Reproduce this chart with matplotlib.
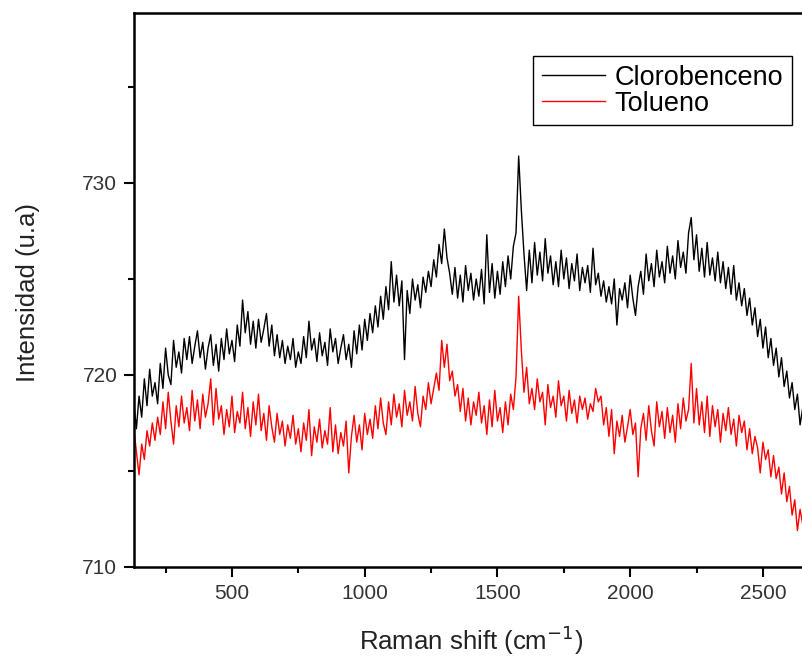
"""Raman spectra of clorobenceno and tolueno (reproduction of the reference figure)."""

import matplotlib

matplotlib.use("Agg")
import matplotlib.pyplot as plt
import numpy as np
from matplotlib.ticker import MultipleLocator

plt.rcParams["font.family"] = ["Liberation Sans", "DejaVu Sans"]

# Raman shift grid, cm^-1 (read every 10 cm^-1 from 130 to 2650)
shift = np.arange(130, 2660, 10)

# intensities, one row per 100 cm^-1
clorobenceno = [
    718.6, 717.2, 718.9, 717.8, 719.8, 718.4, 720.3, 718.9, 719.6, 718.5,
    720.6, 719.3, 721.4, 720.0, 719.5, 721.8, 720.4, 721.2, 720.1, 721.9,
    720.8, 722.0, 720.6, 721.5, 722.3, 720.9, 721.7, 720.3, 721.4, 722.1,
    720.5, 721.6, 720.2, 721.9, 720.8, 722.4, 721.1, 721.8, 720.7, 722.6,
    721.5, 723.9, 722.2, 723.3, 721.6, 722.8, 721.4, 722.9, 721.7, 722.4,
    723.2, 721.5, 722.6, 721.0, 722.1, 720.9, 721.8, 720.6, 721.5, 720.8,
    721.9, 720.4, 721.2, 720.6, 722.0, 720.9, 722.8, 721.3, 721.9, 720.7,
    722.2, 721.0, 721.7, 720.5, 722.4, 721.2, 721.9, 720.6, 721.4, 722.1,
    720.8, 721.6, 720.4, 722.3, 721.1, 722.6, 721.3, 722.9, 721.8, 723.2,
    722.2, 723.6, 722.5, 724.1, 722.9, 724.6, 723.4, 725.9, 723.8, 725.2,
    723.6, 724.9, 720.8, 724.4, 723.2, 725.0, 723.9, 724.7, 723.5, 725.1,
    724.3, 725.4, 724.6, 726.0, 725.1, 726.8, 725.8, 727.6, 726.1, 725.3,
    724.2, 725.6, 724.0, 725.2, 723.8, 725.7, 724.4, 725.3, 723.9, 725.0,
    724.1, 725.5, 723.7, 727.3, 724.3, 725.8, 724.0, 725.4, 724.2, 725.9,
    724.6, 726.2, 725.0, 726.7, 727.4, 731.4, 728.6, 726.3, 724.4, 726.5,
    724.8, 726.9, 725.2, 726.4, 724.9, 727.1, 725.3, 726.2, 724.7, 725.9,
    724.6, 726.5, 725.0, 726.1, 724.5, 725.8, 724.9, 726.3, 724.4, 725.6,
    724.8, 725.7, 724.3, 726.6, 724.7, 725.3, 724.1, 724.9, 723.8, 724.6,
    723.7, 725.0, 722.6, 724.5, 723.9, 724.8, 723.5, 725.2, 724.0, 723.1,
    724.6, 725.4, 724.2, 726.3, 724.9, 725.8, 724.6, 726.5, 725.1, 725.9,
    724.8, 726.7, 725.3, 726.2, 725.0, 727.0, 725.6, 726.4, 725.3, 727.4,
    728.2, 726.0, 727.3, 725.4, 726.6, 725.1, 726.9, 725.2, 726.1, 724.9,
    726.4, 724.8, 725.9, 724.5, 725.6, 724.2, 725.7, 723.9, 724.8, 723.6,
    724.5, 723.1, 724.0, 722.6, 723.5, 722.0, 722.9, 721.4, 722.5, 720.9,
    721.9, 720.5, 721.4, 719.9, 720.9, 719.4, 720.2, 718.8, 719.6, 718.2,
    719.0, 717.4, 718.3,
]

tolueno = [
    717.3, 716.0, 714.8, 716.4, 715.6, 717.1, 716.3, 717.5, 716.6, 717.8,
    716.9, 718.6, 717.2, 719.1, 717.6, 716.4, 718.4, 717.3, 718.9, 717.5,
    718.3, 717.1, 719.2, 717.6, 718.7, 717.2, 719.0, 717.8, 718.5, 719.8,
    717.4, 719.3, 717.7, 718.4, 716.9, 718.2, 717.3, 718.9, 717.0, 718.1,
    717.5, 719.1, 717.2, 718.3, 716.8, 718.6, 717.4, 719.0, 717.1, 718.0,
    716.6, 718.4, 717.3, 716.5, 718.0, 716.9, 717.6, 716.3, 717.4, 716.7,
    717.9, 716.4, 717.2, 716.0, 717.5, 716.6, 718.2, 715.8, 717.3, 716.5,
    717.7, 716.2, 717.1, 716.4, 718.3, 716.0, 717.4, 715.9, 717.0, 716.3,
    717.6, 714.9, 716.8, 717.9, 716.5, 717.4, 716.1, 718.0, 716.9, 717.7,
    716.7, 718.4, 717.2, 718.8, 717.5, 716.9, 718.6, 717.4, 719.0, 717.8,
    718.5, 717.3, 719.2, 717.9, 718.6, 717.6, 719.4, 718.0, 717.3, 718.9,
    718.2, 719.6, 718.5, 719.3, 720.1, 719.2, 721.8, 720.4, 721.6, 719.7,
    720.2, 718.9, 719.5, 718.1, 719.3, 717.6, 718.8, 717.4, 718.6, 717.9,
    719.1, 717.5, 718.4, 716.9, 718.7, 717.3, 719.2, 717.6, 718.3, 717.0,
    718.6, 717.4, 719.0, 718.2, 719.9, 724.1, 721.3, 719.1, 720.4, 718.5,
    719.3, 718.2, 719.8, 718.6, 719.1, 717.4, 719.5, 718.3, 718.9, 717.8,
    719.7, 718.4, 718.9, 717.6, 719.2, 718.0, 718.7, 717.5, 718.9, 718.2,
    718.8, 717.7, 718.5, 718.1, 719.3, 718.6, 718.9, 717.4, 718.3, 716.8,
    718.2, 715.9, 717.6, 716.8, 717.9, 716.5, 717.3, 718.2, 716.9, 717.5,
    714.7, 717.2, 718.0, 716.6, 718.4, 717.1, 716.3, 718.6, 717.3, 718.1,
    716.7, 718.3, 717.0, 717.9, 716.5, 718.5, 717.2, 718.8, 717.6, 718.2,
    720.6, 717.5, 719.3, 717.4, 718.6, 717.0, 718.9, 716.8, 718.4, 717.3,
    718.2, 716.5, 718.0, 717.1, 718.3, 716.9, 717.7, 716.3, 717.9, 717.0,
    717.6, 716.1, 717.2, 715.9, 716.8, 716.2, 714.9, 716.5, 715.6, 716.1,
    714.7, 715.8, 714.6, 715.2, 713.8, 714.9, 713.4, 714.2, 712.7, 713.5,
    711.9, 713.0, 712.2,
]

x_major = [500, 1000, 1500, 2000, 2500]
y_major = [710, 720, 730]

fig = plt.figure(figsize=(8.02, 6.58), dpi=100)
# the original is cropped on the right, so the axes run past the figure edge
ax = fig.add_axes([134 / 802, 1 - 567 / 658, 0.857, 554 / 658])

ax.plot(shift, clorobenceno, color="black", lw=1.0, label="Clorobenceno")
ax.plot(shift, tolueno, color="#ff0000", lw=1.0, label="Tolueno")

ax.set_xlim(131, 2720)
ax.set_ylim(710, 738.85)
ax.set_xticks(x_major)
ax.set_yticks(y_major)
ax.xaxis.set_minor_locator(MultipleLocator(250))
ax.yaxis.set_minor_locator(MultipleLocator(5))
ax.tick_params(which="major", direction="out", length=7, width=1.5,
               labelsize=15, labelcolor="#333333", pad=5)
ax.tick_params(which="minor", direction="out", length=4.5, width=1.5)
for side in ("left", "bottom", "top", "right"):
    ax.spines[side].set_linewidth(1.8)

fig.text(28 / 802, 1 - 292 / 658, "Intensidad (u.a)", rotation=90,
         ha="center", va="center", fontsize=18.5, color="#222222")
fig.text(471 / 802, 1 - 640 / 658, "Raman shift (cm$^{-1}$)",
         ha="center", va="center", fontsize=18.5, color="#222222")

leg = ax.legend(loc="upper left", bbox_to_anchor=(533 / 802, 1 - 56 / 658),
                bbox_transform=fig.transFigure, borderaxespad=0,
                fontsize=19.5, handlelength=2.35, handletextpad=0.35,
                labelspacing=0.0, borderpad=0.32, fancybox=False,
                framealpha=1)
leg.get_frame().set_edgecolor("black")
leg.get_frame().set_linewidth(1.0)

fig.savefig("out.png", dpi=100)
